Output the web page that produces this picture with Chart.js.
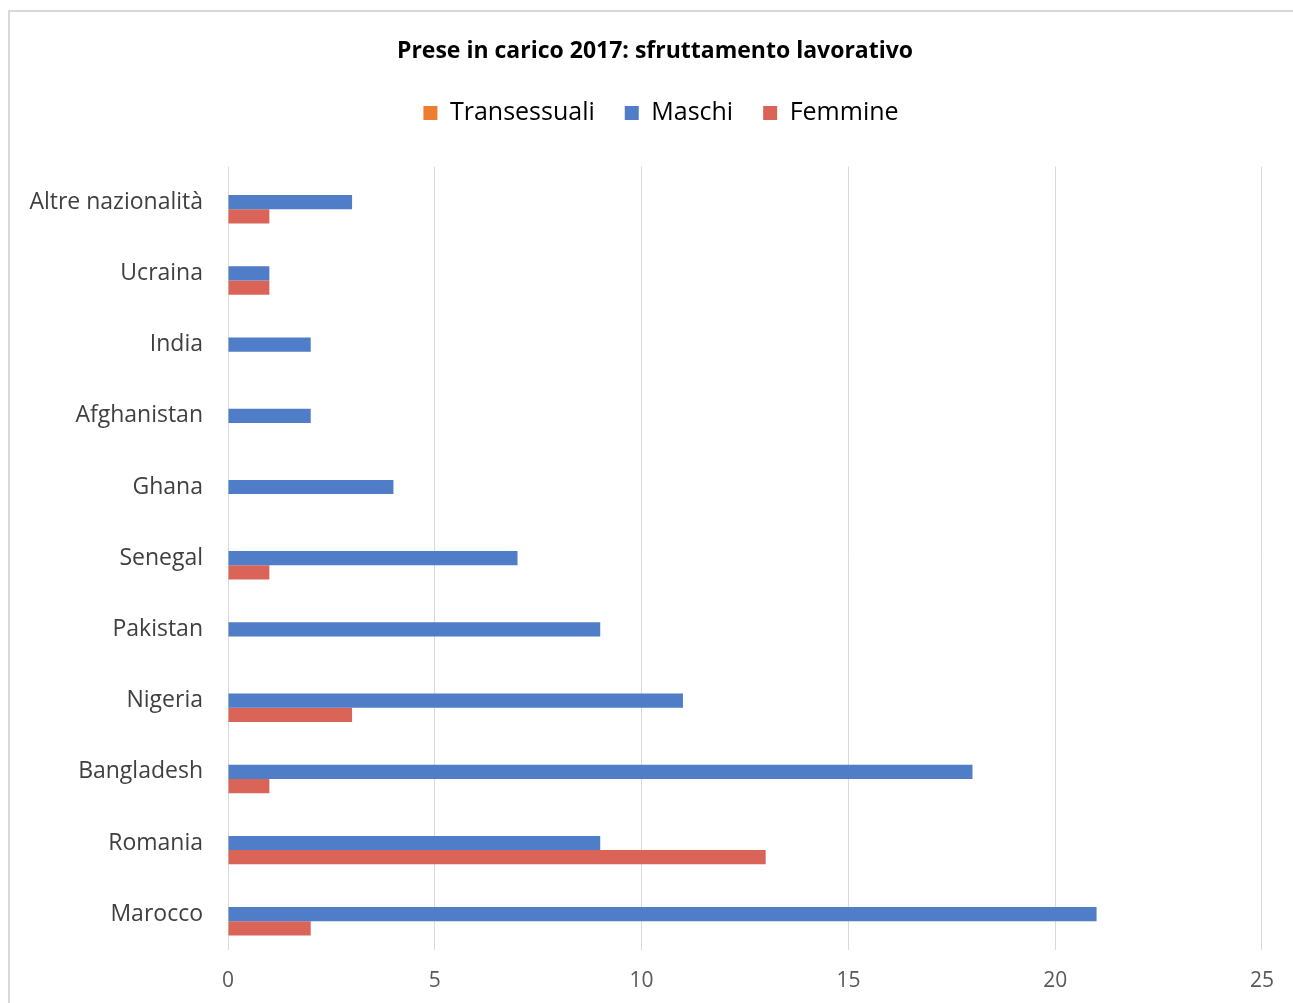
<!DOCTYPE html>
<html lang="it">
<head>
<meta charset="UTF-8">
<title>Prese in carico 2017</title>
<script src="https://cdn.jsdelivr.net/npm/chart.js"></script>
<style>
    body { margin: 0; background: #ffffff; overflow: hidden; }
    #cornice {
        position: absolute; left: 8px; top: 10px;
        width: 1300px; height: 1010px;
        border: 2px solid #d9d9d9; box-sizing: border-box;
    }
    #grafico {
        position: absolute; left: 10px; top: 12px;
        width: 1283px; height: 991px;
    }
</style>
</head>
<body>
<div id="cornice"></div>
<div id="grafico"><canvas id="myChartCanvas"></canvas></div>

<script>
// dati (dall'alto verso il basso)
var nazionalita = ['Altre nazionalità', 'Ucraina', 'India', 'Afghanistan', 'Ghana', 'Senegal',
    'Pakistan', 'Nigeria', 'Bangladesh', 'Romania', 'Marocco'];
var transessuali = [0, 0, 0, 0, 0, 0, 0, 0, 0, 0, 0];
var maschi = [3, 1, 2, 2, 4, 7, 9, 11, 18, 9, 21];
var femmine = [1, 1, 0, 0, 0, 1, 0, 3, 1, 13, 2];
var tickX = [0, 5, 10, 15, 20, 25];

var font = '"Open Sans", Calibri, sans-serif';

// spazio extra sotto la legenda + titolo/legenda spostati un po' a destra
const spazioLegenda = {
    id: 'spazioLegenda',
    beforeInit: function (chart) {
        const fitOrig = chart.legend.fit;
        chart.legend.fit = function () {
            fitOrig.bind(chart.legend)();
            this.height += 31;
        };
    },
    afterLayout: function (chart) {
        chart.titleBlock.left += 19;
        chart.titleBlock.right += 19;
        chart.legend.left += 25;
        chart.legend.right += 25;
    }
};

const config = {
    type: 'bar',
    data: {
        labels: nazionalita,
        datasets: [
            { label: 'Transessuali', data: transessuali, backgroundColor: '#ED7D31' },
            { label: 'Maschi', data: maschi, backgroundColor: '#4F7DC8' },
            { label: 'Femmine', data: femmine, backgroundColor: '#DA6458' }
        ]
    },
    options: {
        indexAxis: 'y',
        responsive: true,
        maintainAspectRatio: false,
        animation: false,
        categoryPercentage: 0.6,
        barPercentage: 1.0,
        layout: { padding: { left: 0, right: 31, top: 0, bottom: -10 } },
        plugins: {
            tooltip: { enabled: false },
            title: {
                display: true,
                text: 'Prese in carico 2017: sfruttamento lavorativo',
                color: '#000000',
                font: { family: font, size: 23, weight: 'bold' },
                padding: { top: 26, bottom: 5 }
            },
            legend: {
                position: 'top',
                labels: {
                    color: '#000000',
                    font: { family: font, size: 25 },
                    boxWidth: 14,
                    boxHeight: 14,
                    padding: 30
                }
            }
        },
        scales: {
            x: {
                min: 0,
                max: 25,
                afterBuildTicks: function (scale) {
                    scale.ticks = tickX.map(function (v) { return { value: v }; });
                },
                grid: { color: '#d9d9d9', lineWidth: 1, drawTicks: false },
                border: { display: false },
                ticks: {
                    color: '#595959',
                    font: { family: font, size: 21 },
                    padding: 19
                }
            },
            y: {
                grid: { display: false },
                border: { display: false },
                afterFit: function (scale) { scale.width = 218; },
                ticks: {
                    color: '#404040',
                    font: { family: font, size: 23 },
                    padding: 17
                }
            }
        }
    },
    plugins: [spazioLegenda]
};

let ctx = document.getElementById('myChartCanvas').getContext('2d');
let myChart = new Chart(ctx, config);
</script>
</body>
</html>
